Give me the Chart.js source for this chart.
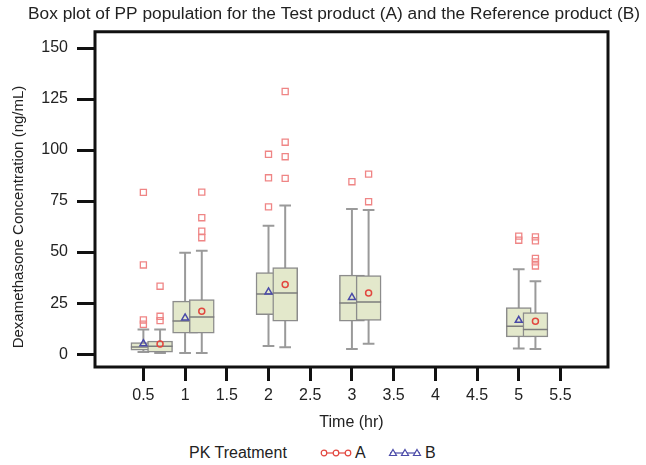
<!DOCTYPE html>
<html>
<head>
<meta charset="utf-8">
<script src="https://cdn.jsdelivr.net/npm/chart.js@4/dist/chart.umd.min.js"></script>
<style>
    html, body { margin: 0; padding: 0; background: #fff; }
    #wrap { position: relative; width: 646px; height: 465px; font-family: 'Liberation Sans', Arial, sans-serif; color: #222; }
    #chart-box { position: absolute; left: 0; top: 0; width: 646px; height: 440px; }
    #y-title { position: absolute; left: -132px; top: 207px; width: 300px; height: 20px; line-height: 20px;
               text-align: center; font-size: 15px; transform: rotate(-90deg); }
    .legend-item { position: absolute; top: 443px; font-size: 16px; line-height: 20px; }
    .legend-sym { position: absolute; top: 446px; }
</style>
</head>
<body>
<div id="wrap">
    <div id="chart-box"><canvas id="chart-pk"></canvas></div>
    <div id="y-title">Dexamethasone Concentration (ng/mL)</div>
    <span class="legend-item" style="left:189px">PK Treatment</span>
    <canvas class="legend-sym" id="sym-a" width="34" height="14" style="left:319px"></canvas>
    <span class="legend-item" style="left:355px">A</span>
    <canvas class="legend-sym" id="sym-b" width="34" height="14" style="left:388px"></canvas>
    <span class="legend-item" style="left:425px">B</span>
</div>
<script>
// ===== DATA =====
const times = [0.5, 1, 2, 3, 5];
const xTicks = [0.5, 1, 1.5, 2, 2.5, 3, 3.5, 4, 4.5, 5, 5.5];
const yTicks = [0, 25, 50, 75, 100, 125, 150];

// Test product (A)
const aMin  = [0.7, 0.6, 3.4, 5.2, 2.6];
const aQ1   = [1.1, 10.4, 16.2, 16.6, 8.5];
const aMed  = [3.9, 18.3, 30.0, 25.6, 12.1];
const aQ3   = [6.5, 26.8, 42.4, 38.5, 20.4];
const aMax  = [12.1, 50.6, 72.8, 70.5, 35.7];
const aMean = [5.0, 21.1, 34.1, 30.0, 16.2];
const aOut  = [[33.3, 18.6, 16.5], [79.3, 66.8, 60.2, 57.0], [128.5, 103.7, 96.6, 86.0], [88.1, 74.6], [57.4, 55.5, 46.9, 45.2, 43.2]];

// Reference product (B)
const bMin  = [1.1, 0.6, 4.1, 2.6, 2.9];
const bQ1   = [2.0, 10.4, 19.4, 16.2, 8.5];
const bMed  = [3.6, 16.3, 29.5, 25.1, 13.7];
const bQ3   = [5.7, 26.0, 40.0, 38.7, 22.9];
const bMax  = [12.1, 49.6, 62.8, 71.0, 41.6];
const bMean = [5.2, 17.8, 30.5, 27.8, 16.6];
const bOut  = [[79.2, 43.7, 16.8, 14.7], [], [97.8, 86.3, 72.1], [84.4], [57.8, 55.8]];

const Plot = (() => {
    const FONT = "'Liberation Sans', Arial, sans-serif";
    const BOX_FILL = '#e3e8cb';
    const BOX_LINE = '#8c8c8c';
    const WHISKER = '#9a9a9a';
    const RED = '#e2473f';
    const BLUE = '#4a4aa8';
    const OUTLIER = '#ef8585';
    const HALF_BOX = 0.15;   // in hours
    const HALF_CAP = 0.07;

    /** Whisker stems from min to max, one segment per time point */
    function stems(offset, lo, hi) {
        return times.flatMap((t, i) => [
            { x: t + offset, y: lo[i] }, { x: t + offset, y: hi[i] }, { x: t + offset, y: null }
        ]);
    }

    /** Short horizontal segments centred on each box, at the given values */
    function ticksAt(offset, vals, half) {
        return times.flatMap((t, i) => [
            { x: t + offset - half, y: vals[i] }, { x: t + offset + half, y: vals[i] }, { x: t + offset, y: null }
        ]);
    }

    function seriesSets(name, offset, lo, q1, med, q3, hi, baseOrder) {
        const seg = { type: 'line', spanGaps: false, pointRadius: 0, fill: false };
        return [
            { ...seg, label: name + ' whisker', data: stems(offset, lo, hi), borderColor: WHISKER, borderWidth: 2, order: baseOrder + 3 },
            { ...seg, label: name + ' caps', data: ticksAt(offset, lo, HALF_CAP).concat(ticksAt(offset, hi, HALF_CAP)), borderColor: WHISKER, borderWidth: 2, order: baseOrder + 3 },
            {
                type: 'bar', label: name + ' box', grouped: false, barThickness: 25,
                data: times.map((t, i) => ({ x: t + offset, y: [q1[i], q3[i]] })),
                backgroundColor: BOX_FILL, borderColor: BOX_LINE, borderWidth: 1.5, borderSkipped: false,
                order: baseOrder + 2
            },
            { ...seg, label: name + ' median', data: ticksAt(offset, med, HALF_BOX), borderColor: '#7d7d7d', borderWidth: 1.5, order: baseOrder + 1 }
        ];
    }

    function outlierPoints(offset, out) {
        return times.flatMap((t, i) => out[i].map(v => ({ x: t + offset, y: v })));
    }

    /** Black frame round the plot area, plus the outside tick marks on the y axis */
    const framePlugin = {
        id: 'frame',
        afterDatasetsDraw(chart) {
            const { ctx, chartArea: a } = chart;
            const y = chart.scales.y;
            ctx.save();
            ctx.strokeStyle = '#111';
            ctx.lineWidth = 3;
            ctx.strokeRect(a.left, a.top, a.right - a.left, a.bottom - a.top);
            ctx.beginPath();
            yTicks.forEach(v => {
                const py = Math.round(y.getPixelForValue(v)) + 0.5;
                ctx.moveTo(a.left - 18, py);
                ctx.lineTo(a.left, py);
            });
            ctx.stroke();
            ctx.restore();
        }
    };

    function render() {
        const datasets = [
            ...seriesSets('B', 0, bMin, bQ1, bMed, bQ3, bMax, 10),
            ...seriesSets('A', 0.2, aMin, aQ1, aMed, aQ3, aMax, 5),
            {
                type: 'scatter', label: 'outliers',
                data: outlierPoints(0, bOut).concat(outlierPoints(0.2, aOut)),
                pointStyle: 'rect', pointRadius: 4.3, borderColor: OUTLIER, backgroundColor: 'rgba(255,255,255,0)',
                borderWidth: 1.3, order: 2
            },
            {
                type: 'scatter', label: 'B',
                data: times.map((t, i) => ({ x: t, y: bMean[i] })),
                pointStyle: 'triangle', pointRadius: 4, borderColor: BLUE, backgroundColor: 'rgba(255,255,255,0)',
                borderWidth: 1.5, order: 1
            },
            {
                type: 'scatter', label: 'A',
                data: times.map((t, i) => ({ x: t + 0.2, y: aMean[i] })),
                pointStyle: 'circle', pointRadius: 3, borderColor: RED, backgroundColor: 'rgba(255,255,255,0)',
                borderWidth: 1.5, order: 1
            }
        ];

        const tickFont = { family: FONT, size: 16 };

        new Chart(document.getElementById('chart-pk'), {
            type: 'line',
            data: { datasets },
            options: {
                responsive: true,
                maintainAspectRatio: false,
                animation: false,
                layout: { padding: { left: 0, right: 6, top: 0, bottom: 0 } },
                plugins: {
                    legend: { display: false },
                    tooltip: { enabled: false },
                    title: {
                        display: true, align: 'end', color: '#222',
                        text: 'Box plot of PP population for the Test product (A) and the Reference product (B)',
                        font: { family: FONT, size: 17.3, weight: 'normal' },
                        padding: { top: 4, bottom: 7 }
                    }
                },
                scales: {
                    x: {
                        type: 'linear', min: -0.08, max: 6.07, offset: false,
                        afterBuildTicks: s => { s.ticks = xTicks.map(v => ({ value: v })); },
                        afterFit: s => { s.height = 73; },
                        ticks: { font: tickFont, color: '#222', padding: 5, maxRotation: 0, autoSkip: false, callback: v => String(v) },
                        grid: { offset: false, drawOnChartArea: false, drawTicks: true, tickLength: 14, tickWidth: 3, tickColor: '#111' },
                        border: { display: false },
                        title: { display: true, text: 'Time (hr)', color: '#222', font: { family: FONT, size: 16 }, padding: { top: 2, bottom: 8 } }
                    },
                    y: {
                        type: 'linear', min: -6.2, max: 157.7,
                        afterBuildTicks: s => { s.ticks = yTicks.map(v => ({ value: v })); },
                        afterFit: s => { s.width = 95; },
                        ticks: { font: tickFont, color: '#222', padding: 9, callback: v => String(v) },
                        grid: { display: false, drawTicks: true, tickLength: 18 },
                        border: { display: false }
                    },
                    yRight: {
                        type: 'linear', position: 'right', display: true,
                        ticks: { display: false }, grid: { display: false }, border: { display: false },
                        afterFit: s => { s.width = 32; }
                    }
                }
            },
            plugins: [framePlugin]
        });

        drawLegendSymbol('sym-a', RED, 'circle');
        drawLegendSymbol('sym-b', BLUE, 'triangle');
    }

    /** Legend swatch: a short line with three markers */
    function drawLegendSymbol(id, color, shape) {
        const ctx = document.getElementById(id).getContext('2d');
        const y = 7;
        ctx.strokeStyle = color;
        ctx.lineWidth = 1.2;
        ctx.beginPath();
        ctx.moveTo(2, y);
        ctx.lineTo(32, y);
        ctx.stroke();
        [5, 17, 29].forEach(x => {
            ctx.beginPath();
            if (shape === 'circle') {
                ctx.arc(x, y, 2.8, 0, Math.PI * 2);
            } else {
                ctx.moveTo(x, y - 3.5);
                ctx.lineTo(x + 3.5, y + 2.5);
                ctx.lineTo(x - 3.5, y + 2.5);
                ctx.closePath();
            }
            ctx.fillStyle = '#fff';
            ctx.fill();
            ctx.stroke();
        });
    }

    document.addEventListener('DOMContentLoaded', render);
    return { render };
})();
</script>
</body>
</html>
